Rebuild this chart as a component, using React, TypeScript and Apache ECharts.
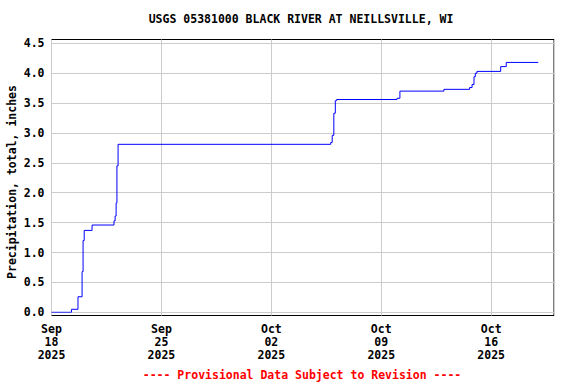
import React, { useEffect, useRef } from "react";
import * as echarts from "echarts";

const TITLE = "USGS 05381000 BLACK RIVER AT NEILLSVILLE, WI";
const Y_TITLE = "Precipitation, total, inches";
const FOOTER = "---- Provisional Data Subject to Revision ----";

// Observation times (UTC) and cumulative precipitation (inches) at each step
const times: string[] = [
  "2025-09-18T00:00Z",
  "2025-09-19T06:30Z",
  "2025-09-19T16:30Z",
  "2025-09-19T22:45Z",
  "2025-09-20T00:15Z",
  "2025-09-20T02:00Z",
  "2025-09-20T14:00Z",
  "2025-09-21T23:30Z",
  "2025-09-22T01:15Z",
  "2025-09-22T02:45Z",
  "2025-09-22T04:00Z",
  "2025-09-22T05:45Z",
  "2025-10-05T18:45Z",
  "2025-10-05T21:00Z",
  "2025-10-05T23:30Z",
  "2025-10-06T01:45Z",
  "2025-10-06T03:45Z",
  "2025-10-10T00:00Z",
  "2025-10-10T04:30Z",
  "2025-10-12T23:45Z",
  "2025-10-14T15:00Z",
  "2025-10-14T18:45Z",
  "2025-10-14T21:45Z",
  "2025-10-14T23:45Z",
  "2025-10-15T02:15Z",
  "2025-10-16T14:30Z",
  "2025-10-16T23:00Z",
  "2025-10-19T00:00Z",
];
const precip: number[] = [
  0.0, 0.05, 0.26, 0.68, 1.2, 1.37, 1.46, 1.53, 1.61, 1.83, 2.45, 2.81,
  2.84, 2.96, 3.33, 3.54, 3.56, 3.58, 3.7, 3.73, 3.76, 3.81, 3.94, 4.0,
  4.03, 4.11, 4.18, 4.18,
];

const X_START = "2025-09-18T00:00Z";
const X_END = "2025-10-20T00:00Z";
const MONTHS = ["Jan", "Feb", "Mar", "Apr", "May", "Jun", "Jul", "Aug", "Sep", "Oct", "Nov", "Dec"];
const Y_MIN = 0;
const Y_MAX = 4.5;
const Y_STEP = 0.5;

const FONT = "'DejaVu Sans Mono', 'Liberation Mono', monospace";

export default function App() {
  const ref = useRef<HTMLDivElement>(null);
  useEffect(() => {
    if (!ref.current) return;
    const chart = echarts.init(ref.current, null, { renderer: "svg" });
    const xMin = Date.parse(X_START);
    const xMax = Date.parse(X_END);
    const week = 7 * 86400000;
    const data = times.map((t, i) => [Date.parse(t), precip[i]]);
    const fmtX = (v: number) => {
      if (Math.round(v - xMin) % week !== 0) return "";
      const d = new Date(v);
      const dd = String(d.getUTCDate()).padStart(2, "0");
      return `${MONTHS[d.getUTCMonth()]}\n${dd}\n${d.getUTCFullYear()}`;
    };
    chart.setOption({
      animation: false,
      backgroundColor: "#fff",
      grid: [
        {
          left: 51.5,
          right: 22,
          top: 39.5,
          bottom: 68.5,
          show: true,
          borderColor: "#000",
          borderWidth: 1,
          backgroundColor: "transparent",
        },
        { left: 51.5, right: 22, top: 43.3, bottom: 71.7 },
      ],
      xAxis: [
        {
          type: "value",
          gridIndex: 0,
          min: xMin,
          max: xMax,
          interval: week,
          axisLine: { show: false },
          axisTick: { show: false },
          splitLine: { show: true, lineStyle: { color: "#cccccc", width: 1 } },
          axisLabel: {
            formatter: fmtX,
            fontFamily: FONT,
            fontWeight: "bold",
            fontSize: 11.5,
            color: "#000",
            lineHeight: 13,
            margin: 7,
            showMaxLabel: false,
            showMinLabel: true,
            hideOverlap: false,
          },
        },
        {
          type: "value",
          gridIndex: 1,
          min: xMin,
          max: xMax,
          show: false,
          splitLine: { show: false },
        },
      ],
      yAxis: [
        { type: "value", gridIndex: 0, min: 0, max: 1, show: false, splitLine: { show: false } },
        {
          type: "value",
          gridIndex: 1,
          min: Y_MIN,
          max: Y_MAX,
          interval: Y_STEP,
          axisLine: { show: false },
          axisTick: { show: false },
          splitLine: { show: true, lineStyle: { color: "#cccccc", width: 1 } },
          axisLabel: {
            formatter: (v: number) => v.toFixed(1),
            fontFamily: FONT,
            fontWeight: "bold",
            fontSize: 11.5,
            color: "#000",
            margin: 7,
          },
        },
      ],
      series: [
        {
          type: "line",
          xAxisIndex: 1,
          yAxisIndex: 1,
          data,
          step: "end",
          showSymbol: false,
          symbol: "none",
          lineStyle: { color: "#0000ff", width: 1 },
          z: 5,
        },
      ],
      graphic: [
        {
          type: "text",
          x: 301,
          y: 19,
          style: {
            text: TITLE,
            fontFamily: FONT,
            fontWeight: "bold",
            fontSize: 11.5,
            fill: "#000",
            align: "center",
            verticalAlign: "middle",
          },
        },
        {
          type: "text",
          x: 12,
          y: 182,
          rotation: Math.PI / 2,
          style: {
            text: Y_TITLE,
            fontFamily: FONT,
            fontWeight: "bold",
            fontSize: 11.5,
            fill: "#000",
            align: "center",
            verticalAlign: "middle",
          },
        },
        {
          type: "text",
          x: 302,
          y: 375,
          style: {
            text: FOOTER,
            fontFamily: FONT,
            fontWeight: "bold",
            fontSize: 11.5,
            fill: "#ff0000",
            align: "center",
            verticalAlign: "middle",
          },
        },
      ],
    });
    return () => chart.dispose();
  }, []);
  return <div ref={ref} style={{ width: 576, height: 384, position: "absolute", left: 0, top: 0 }} />;
}
